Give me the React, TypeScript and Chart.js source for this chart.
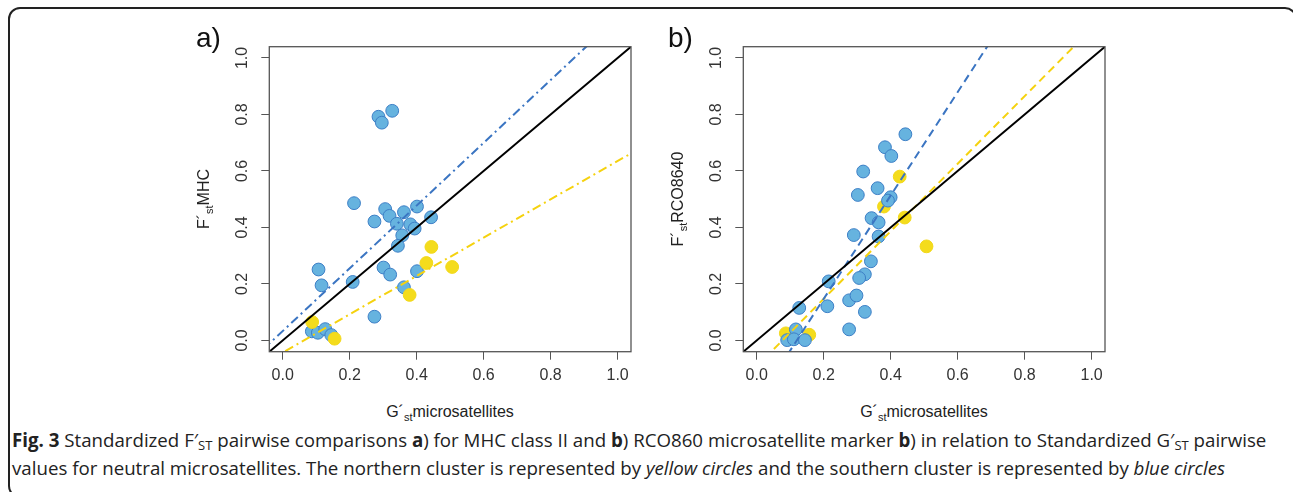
import React, { useEffect, useRef } from "react";
import { Chart, registerables } from "chart.js";

Chart.register(...registerables);

// ---------- Data ----------
const axisTicks = [0, 0.2, 0.4, 0.6, 0.8, 1.0];

// Panel a) F'st MHC vs G'st microsatellites
const aBlueX = [0.286, 0.327, 0.296, 0.213, 0.306, 0.319, 0.274, 0.362, 0.401, 0.341, 0.381, 0.394, 0.357, 0.443, 0.344, 0.107, 0.116, 0.209, 0.301, 0.321, 0.401, 0.362, 0.274, 0.087, 0.105, 0.127, 0.145];
const aBlueY = [0.792, 0.813, 0.771, 0.486, 0.465, 0.441, 0.421, 0.454, 0.474, 0.413, 0.411, 0.396, 0.372, 0.436, 0.335, 0.251, 0.195, 0.207, 0.258, 0.233, 0.245, 0.188, 0.084, 0.032, 0.027, 0.040, 0.019];
const aYellowX = [0.088, 0.155, 0.379, 0.429, 0.444, 0.506];
const aYellowY = [0.065, 0.006, 0.161, 0.274, 0.331, 0.260];

// Panel b) F'st RCO8640 vs G'st microsatellites
const bBlueX = [0.444, 0.383, 0.402, 0.318, 0.361, 0.302, 0.400, 0.392, 0.343, 0.364, 0.290, 0.364, 0.341, 0.323, 0.306, 0.215, 0.127, 0.211, 0.276, 0.298, 0.323, 0.276, 0.117, 0.091, 0.111, 0.144];
const bBlueY = [0.730, 0.684, 0.653, 0.598, 0.539, 0.515, 0.507, 0.495, 0.433, 0.418, 0.373, 0.368, 0.280, 0.234, 0.221, 0.209, 0.115, 0.121, 0.142, 0.159, 0.101, 0.039, 0.039, 0.001, 0.004, 0.001];
const bYellowX = [0.427, 0.380, 0.442, 0.507, 0.087, 0.157];
const bYellowY = [0.580, 0.474, 0.435, 0.333, 0.025, 0.020];

// Fitted lines: [intercept, slope]
const aBlueFit = [0.033, 1.111];
const aYellowFit = [-0.043, 0.678];
const bBlueFit = [-0.219, 1.83];
const bYellowFit = [-0.092, 1.196];
const identityLine = [0, 1];

const axisMin = -0.04;
const axisMax = 1.04;

// ---------- Styles ----------
const BLUE_FILL = "#66b3df";
const BLUE_EDGE = "#3d7fc6";
const YELLOW_FILL = "#f4dc1c";
const YELLOW_EDGE = "#f2d81a";
const BLUE_LINE = "#3b75c2";
const YELLOW_LINE = "#f5d20f";
const AXIS_GREY = "#555555";
const FONT = "'Liberation Sans', Arial, sans-serif";

function pts(xs: number[], ys: number[]) {
  return xs.map((x, i) => ({ x, y: ys[i] }));
}
function fitLine(f: number[]) {
  return [
    { x: axisMin - 0.1, y: f[0] + f[1] * (axisMin - 0.1) },
    { x: axisMax + 0.1, y: f[0] + f[1] * (axisMax + 0.1) },
  ];
}

const boxPlugin = {
  id: "boxPlugin",
  afterDraw(chart: any) {
    const { ctx, chartArea } = chart;
    ctx.save();
    ctx.strokeStyle = AXIS_GREY;
    ctx.lineWidth = 1.3;
    ctx.strokeRect(chartArea.left, chartArea.top, chartArea.right - chartArea.left, chartArea.bottom - chartArea.top);
    ctx.restore();
  },
};

function makeConfig(
  blue: { x: number; y: number }[],
  yellow: { x: number; y: number }[],
  blueFit: number[],
  yellowFit: number[],
  dash: number[],
  yellowOnTop: boolean
): any {
  const lineDs = (data: any, color: string, d: number[], order: number) => ({
    type: "line",
    data,
    borderColor: color,
    borderWidth: 2,
    borderDash: d,
    pointRadius: 0,
    fill: false,
    order,
  });
  return {
    type: "scatter",
    data: {
      datasets: [
        lineDs(fitLine(identityLine), "#000000", [], 0),
        lineDs(fitLine(blueFit), BLUE_LINE, dash, 1),
        lineDs(fitLine(yellowFit), YELLOW_LINE, dash, 1),
        {
          data: yellow,
          backgroundColor: YELLOW_FILL,
          borderColor: YELLOW_EDGE,
          borderWidth: 1,
          pointRadius: 6.4,
          order: yellowOnTop ? 2 : 3,
        },
        {
          data: blue,
          backgroundColor: BLUE_FILL,
          borderColor: BLUE_EDGE,
          borderWidth: 1,
          pointRadius: 6.4,
          order: yellowOnTop ? 3 : 2,
        },
      ],
    },
    options: {
      animation: false,
      responsive: false,
      maintainAspectRatio: false,
      layout: { padding: { top: 26.7, right: 19, left: 0, bottom: 0 } },
      plugins: { legend: { display: false }, tooltip: { enabled: false } },
      scales: {
        x: {
          type: "linear",
          min: axisMin,
          max: axisMax,
          afterBuildTicks: (s: any) => {
            s.ticks = axisTicks.map((v) => ({ value: v }));
          },
          afterFit: (s: any) => {
            s.height = 48.3;
          },
          border: { display: false },
          grid: { display: true, drawOnChartArea: false, drawTicks: true, tickLength: 8, color: AXIS_GREY, lineWidth: 1 },
          ticks: {
            color: "#333333",
            font: { family: FONT, size: 16 },
            padding: 6,
            maxRotation: 0,
            autoSkip: false,
            callback: (v: any) => Number(v).toFixed(1),
          },
        },
        y: {
          type: "linear",
          min: axisMin,
          max: axisMax,
          afterBuildTicks: (s: any) => {
            s.ticks = axisTicks.map((v) => ({ value: v }));
          },
          afterFit: (s: any) => {
            s.width = 89.3;
          },
          border: { display: false },
          grid: { display: true, drawOnChartArea: false, drawTicks: true, tickLength: 8, color: AXIS_GREY, lineWidth: 1 },
          ticks: {
            color: "#333333",
            font: { family: FONT, size: 16 },
            padding: 8,
            minRotation: 90,
            maxRotation: 90,
            crossAlign: "center",
            autoSkip: false,
            callback: (v: any) => Number(v).toFixed(1),
          },
        },
      },
    },
    plugins: [boxPlugin],
  };
}

function Panel(props: { left: number; config: any }) {
  const ref = useRef<HTMLCanvasElement | null>(null);
  useEffect(() => {
    if (!ref.current) return;
    const chart = new Chart(ref.current, props.config);
    return () => chart.destroy();
  }, []);
  return (
    <canvas
      ref={ref}
      width={470}
      height={380}
      style={{ position: "absolute", left: props.left, top: 20, width: 470, height: 380 }}
    />
  );
}

const abs = (s: React.CSSProperties): React.CSSProperties => ({ position: "absolute", ...s });

export default function App() {
  const cfgA = makeConfig(pts(aBlueX, aBlueY), pts(aYellowX, aYellowY), aBlueFit, aYellowFit, [9, 4, 2, 4], true);
  const cfgB = makeConfig(pts(bBlueX, bBlueY), pts(bYellowX, bYellowY), bBlueFit, bYellowFit, [8, 5], false);

  const chartText: React.CSSProperties = { fontFamily: FONT, color: "#222", whiteSpace: "nowrap", lineHeight: 1 };
  const yTitle = (cx: number, label: string) => (
    <div
      style={abs({
        ...chartText,
        left: cx,
        top: 199,
        fontSize: 16,
        transform: "translate(-50%, -50%) rotate(-90deg)",
      })}
    >
      F´<sub style={{ fontSize: 11, verticalAlign: "-4px" }}>st</sub>
      {label}
    </div>
  );
  const xTitle = (cx: number) => (
    <div style={abs({ ...chartText, left: cx, top: 413, fontSize: 16, transform: "translate(-50%, -50%)" })}>
      G´<sub style={{ fontSize: 11, verticalAlign: "-4px" }}>st</sub>microsatellites
    </div>
  );
  const capStyle: React.CSSProperties = {
    fontFamily: "'Open Sans', 'Noto Sans', sans-serif",
    fontSize: 18.7,
    color: "#222",
    whiteSpace: "nowrap",
    lineHeight: "28px",
  };
  const capSub: React.CSSProperties = { fontSize: 13, verticalAlign: "-3px" };

  return (
    <div style={{ position: "fixed", left: 0, top: 0, width: 1293, height: 492, overflow: "hidden", background: "#fff" }}>
      <div
        style={abs({
          left: 8,
          top: 7,
          width: 1289,
          height: 491,
          border: "2px solid #222",
          borderRadius: 12,
          boxSizing: "border-box",
        })}
      />
      <Panel left={180} config={cfgA} />
      <Panel left={654} config={cfgB} />
      <div style={abs({ ...chartText, left: 196, top: 24, fontSize: 28, color: "#111" })}>a)</div>
      <div style={abs({ ...chartText, left: 668, top: 24, fontSize: 28, color: "#111" })}>b)</div>
      {yTitle(205, "MHC")}
      {yTitle(679, "RCO8640")}
      {xTitle(450)}
      {xTitle(924)}
      <div style={abs({ ...capStyle, left: 12, top: 426 })}>
        <b>Fig. 3</b> Standardized F′<sub style={capSub}>ST</sub> pairwise comparisons <b>a</b>) for MHC class II and{" "}
        <b>b</b>) RCO860 microsatellite marker <b>b</b>) in relation to Standardized G′<sub style={capSub}>ST</sub> pairwise
      </div>
      <div style={abs({ ...capStyle, left: 12, top: 454 })}>
        values for neutral microsatellites. The northern cluster is represented by <i>yellow circles</i> and the southern
        cluster is represented by <i>blue circles</i>
      </div>
    </div>
  );
}
